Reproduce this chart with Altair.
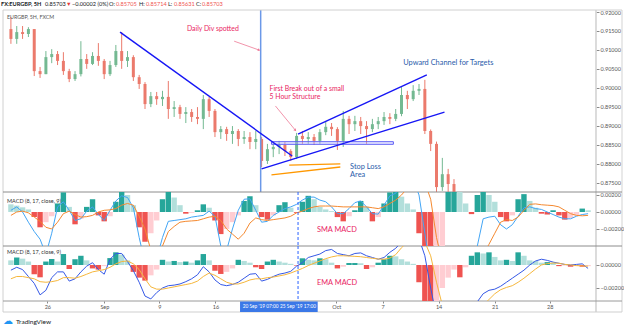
import altair as alt
import pandas as pd

# ---------------- data ----------------
N = 100  # 5H bars, resampled
open0 = 9155  # price x 1e-4
close = [9129,9147,9142,9155,9044,9036,9081,9089,9071,9044,
         9023,9036,9076,9063,9084,9071,9036,9060,9097,9071,
         9081,9028,9010,8957,8978,8970,8976,8944,8949,8931,
         8936,8923,8918,8970,8939,8883,8891,8878,8886,8865,
         8870,8857,8865,8807,8838,8844,8849,8833,8817,8873,
         8865,8870,8860,8883,8897,8891,8860,8918,8904,8912,
         8899,8891,8904,8912,8923,8918,8931,8981,8970,8992,
         8997,8886,8852,8738,8772,8746,8724,8680,8700,8690,
         8660,8640,8600,8590,8620,8610,8625,8640,8620,8635,
         8650,8640,8625,8630,8640,8620,8610,8600,8580,8570]
high = [9187,9163,9163,9160,9155,9055,9097,9102,9097,9094,
        9050,9044,9123,9089,9094,9118,9076,9071,9113,9147,
        9097,9086,9034,9015,8989,8989,8992,9018,8965,8955,
        8949,8944,8949,8981,8976,8944,8899,8897,8899,8891,
        8886,8883,8886,8870,8852,8857,8860,8857,8838,8881,
        8886,8883,8878,8891,8912,8907,8896,8939,8926,8926,
        8923,8912,8918,8923,8936,8933,8944,9002,8992,9007,
        9010,9021,8890,8858,8815,8786,8759,8724,8710,8712,
        8695,8670,8650,8615,8630,8640,8640,8660,8650,8660,
        8675,8660,8650,8648,8655,8645,8630,8620,8605,8590]
low = [9116,9116,9129,9134,9031,9026,9036,9065,9060,9034,
       9015,9018,9030,9050,9060,9058,9023,9031,9055,9050,
       9055,9018,8997,8944,8949,8955,8952,8918,8923,8918,
       8907,8910,8904,8891,8923,8870,8865,8860,8852,8846,
       8852,8838,8838,8791,8799,8817,8825,8820,8807,8812,
       8852,8852,8849,8852,8875,8873,8836,8844,8878,8886,
       8878,8852,8883,8891,8902,8904,8912,8925,8944,8965,
       8981,8878,8833,8707,8728,8720,8707,8660,8670,8675,
       8650,8620,8590,8570,8585,8600,8600,8615,8610,8615,
       8630,8625,8610,8615,8620,8605,8595,8580,8565,8563]

# MACD values x 1e-5
hist1 = [90,75,55,30,-60,-180,-120,-50,100,230,
         60,-145,-80,60,150,-40,-110,-50,120,240,
         200,80,-180,-350,-250,-100,150,240,170,80,
         -20,-10,20,90,50,-100,-260,-200,-120,-40,
         130,185,80,-60,-90,-40,80,115,50,-10,
         120,190,150,60,30,10,-60,-110,-50,20,
         130,60,-110,-60,100,230,240,180,100,30,
         -250,-600,-800,-700,-450,260,300,240,100,-25,
         200,260,200,120,-60,-110,-40,150,210,130,
         50,-20,-30,20,-40,-90,-70,-40,40,20]
macd1 = [20,60,0,-120,-230,-320,-500,-250,60,120,
         20,-100,-80,10,60,-30,-100,20,130,190,
         170,50,-300,-600,-700,-550,-300,-110,-100,-90,
         -80,-60,-50,-40,10,-50,-400,-450,-200,20,
         150,155,20,-120,-110,-40,0,40,60,90,
         140,175,175,140,120,60,-20,-20,40,110,
         130,60,-20,-25,80,190,220,350,420,380,
         200,-250,-700,-1100,-1300,-1200,-1000,-800,-650,-550,
         -400,-80,-60,-50,-150,-200,-150,-50,50,60,
         40,30,0,-30,-60,-80,-80,-50,-30,-20]
sig1 = [-40,0,10,-10,-60,-110,-180,-200,-120,-20,
        10,-30,-60,-55,-40,0,20,25,40,80,
        100,80,-50,-200,-450,-450,-400,-230,-170,-120,
        -110,-105,-100,-80,-60,-50,-100,-200,-260,-320,
        -250,-130,-70,-90,-100,-90,-80,-70,-50,-10,
        10,40,60,70,70,70,65,60,60,60,
        60,60,50,40,60,100,140,200,280,350,
        380,350,150,-300,-600,-900,-1000,-900,-800,-700,
        -600,-500,-380,-250,-120,-90,-100,-60,20,90,
        95,85,80,75,60,20,-20,-40,-45,-40]
hist2 = [40,65,55,30,-80,-107,30,52,30,95,
         -35,50,80,40,-30,-40,-10,60,110,90,
         40,-60,-110,-136,-90,-40,45,30,35,25,
         30,20,40,95,40,-50,-78,-60,-30,45,
         35,20,-20,-35,30,45,30,20,10,-5,
         58,45,40,58,50,20,-30,-15,17,17,
         15,-35,-20,20,50,80,75,50,30,10,
         -150,-350,-500,-330,-200,-110,-40,-107,-20,80,
         110,100,110,70,40,45,35,110,80,40,
         35,20,25,20,-10,-5,-15,-10,-15,-10]
macd2 = [-45,-20,-40,-100,-160,-260,-220,-110,-60,-60,
         -140,-120,-60,-10,20,-40,-80,50,100,100,
         30,-50,-150,-270,-295,-240,-200,-180,-175,-165,
         -145,-120,-85,-15,-60,-130,-170,-180,-170,-150,
         -115,-80,-75,-140,-125,-100,-80,-70,-55,-10,
         20,65,80,95,125,135,100,90,80,100,
         105,80,65,50,65,110,145,200,260,270,
         230,80,-200,-450,-600,-650,-640,-600,-520,-420,
         -320,-250,-220,-210,-185,-150,-115,-80,-45,0,
         35,50,40,25,15,5,0,5,10,-30]
sig2 = [-120,-100,-100,-110,-120,-145,-150,-145,-135,-110,
        -110,-115,-100,-80,-60,-50,-40,-20,10,30,
        35,10,-40,-120,-190,-210,-210,-200,-190,-180,
        -170,-160,-140,-100,-70,-90,-120,-150,-165,-165,
        -150,-130,-120,-120,-110,-105,-95,-85,-70,-50,
        -30,-5,15,35,55,70,80,80,78,75,
        72,65,58,52,50,60,90,150,200,230,
        240,200,80,-150,-350,-480,-550,-560,-540,-500,
        -430,-350,-300,-250,-215,-195,-180,-150,-115,-75,
        -35,0,12,17,15,5,0,-5,-8,-10]

# x-axis date labels (bar-index positions)
tick_pos = [6.25, 16.03, 25.47, 35.08, 55.82, 63.75, 73.36, 82.97, 92.42]
tick_lab = ["26", "Sep", "9", "16", "Oct", "7", "14", "21", "28"]
price_ticks = [0.875, 0.880, 0.885, 0.890, 0.895, 0.900, 0.905, 0.910, 0.915, 0.920]

# drawings (bar index, price)
trend_seg = ["down", "down", "top", "top", "bot", "bot"]
trend_i = [18.72, 48.24, 49.25, 71.34, 43.0, 74.37]
trend_p = [0.9147, 0.8820, 0.8878, 0.9034, 0.8786, 0.8936]
stop_seg = ["a", "a", "b", "b"]
stop_i = [47.73, 56.5, 44.69, 56.5]
stop_p = [0.8796, 0.8799, 0.8770, 0.8791]
box_i = [44.69, 65.6]
box_p = [0.88509, 0.88577]
arrow_seg = ["a", "a", "b", "b"]
arrow_i = [38.29, 42.5, 45.37, 48.74]
arrow_p = [0.9123, 0.9100, 0.8952, 0.8889]
arrow_head_angle = [110, 140]
div_i = 42.84
cross_i = 49.25
sel_i = [39.3, 52.62]

pink_txt = ["Daily Div spotted", "First Break out of a small", "5 Hour Structure"]
pink_i = [30.19, 44.36, 44.36]
pink_p = [0.9155, 0.8996, 0.8975]
blue_txt = ["Upward Channel for Targets", "Stop Loss", "Area"]
blue_i = [67.29, 58.18, 58.18]
blue_p = [0.9065, 0.8792, 0.8769]

# ---------------- build ----------------
W, H0, H1, H2 = 593, 182, 54, 55
FONT = "Lato"
ONE = pd.DataFrame({"k": [0]})
GREEN, RED = "#74b992", "#eb7a6c"
PINK, NAVY = "#e91e63", "#2a5caa"

xs = alt.Scale(domain=[-0.5, N - 0.5], nice=False, zero=False)


def X(field="i", axis=None):
    return alt.X(f"{field}:Q", scale=xs, axis=axis, title=None)


main_axis = alt.Axis(orient="right", values=price_ticks, format=".5f", tickSize=3,
                     tickColor="#8a8a8a", labelFontSize=5.5, labelColor="#555555",
                     labelPadding=1, domain=False, grid=False, labelFont=FONT)
ymain = alt.Scale(domain=[0.8725, 0.92053], nice=False, zero=False)


def YM(field):
    return alt.Y(f"{field}:Q", scale=ymain, axis=main_axis, title=None)


def ptext(txt, x, y, size=5.5, color="#444444", weight="normal", align="left"):
    return alt.Chart(ONE).mark_text(text=txt, align=align, baseline="middle", fontSize=size,
                                    color=color, fontWeight=weight, font=FONT).encode(
        x=alt.value(x), y=alt.value(y))


def prule(x, x2, y, y2, color, width=1.0):
    return alt.Chart(ONE).mark_rule(color=color, strokeWidth=width).encode(
        x=alt.value(x), x2=alt.value(x2), y=alt.value(y), y2=alt.value(y2))


opens = [open0] + close[:-1]
cdf = pd.DataFrame({
    "i": list(range(N)),
    "o": [v / 1e4 for v in opens],
    "c": [v / 1e4 for v in close],
    "h": [v / 1e4 for v in high],
    "l": [v / 1e4 for v in low],
})
cdf["col"] = [GREEN if c >= o else RED for o, c in zip(cdf["o"], cdf["c"])]
ccol = alt.Color("col:N", scale=None, legend=None)

wicks = alt.Chart(cdf).mark_rule(strokeWidth=1, clip=True).encode(x=X(), y=YM("l"), y2="h:Q", color=ccol)
bodies = alt.Chart(cdf).mark_bar(size=3, clip=True).encode(x=X(), y=YM("o"), y2="c:Q", color=ccol)

divline = alt.Chart(pd.DataFrame({"i": [div_i]})).mark_rule(color="#6b98e8", strokeWidth=1.5).encode(x=X())

tdf = pd.DataFrame({"seg": trend_seg, "i": trend_i, "p": trend_p})
trends = alt.Chart(tdf).mark_line(color="#1616f5", strokeWidth=1.4, clip=True).encode(
    x=X(), y=YM("p"), detail="seg:N", order="i:Q")

bdf = pd.DataFrame({"i": [box_i[0]], "i2": [box_i[1]], "p": [box_p[0]], "p2": [box_p[1]]})
box = alt.Chart(bdf).mark_rect(fill="#d6d6ff", fillOpacity=0.35, stroke="#5a5af5", strokeWidth=1).encode(
    x=X(), x2="i2:Q", y=YM("p"), y2="p2:Q")

sdf = pd.DataFrame({"seg": stop_seg, "i": stop_i, "p": stop_p})
stops = alt.Chart(sdf).mark_line(color="#ff9800", strokeWidth=1.3).encode(
    x=X(), y=YM("p"), detail="seg:N", order="i:Q")

adf = pd.DataFrame({"seg": arrow_seg, "i": arrow_i, "p": arrow_p})
arrows = alt.Chart(adf).mark_line(color="#ee7896", strokeWidth=0.8).encode(
    x=X(), y=YM("p"), detail="seg:N", order="i:Q")
hdf = pd.DataFrame({"i": [arrow_i[1], arrow_i[3]], "p": [arrow_p[1], arrow_p[3]], "ang": arrow_head_angle})
heads = alt.Chart(hdf).mark_point(shape="triangle", filled=True, size=9, color="#ee7896", opacity=1).encode(
    x=X(), y=YM("p"), angle=alt.Angle("ang:Q", scale=None))

ptdf = pd.DataFrame({"t": pink_txt, "i": pink_i, "p": pink_p})
pinks = alt.Chart(ptdf).mark_text(align="left", baseline="middle", fontSize=6.9, color=PINK, font=FONT).encode(
    x=X(), y=YM("p"), text="t:N")
btdf = pd.DataFrame({"t": blue_txt, "i": blue_i, "p": blue_p})
blues = alt.Chart(btdf).mark_text(align="left", baseline="middle", fontSize=7.4, color=NAVY, font=FONT).encode(
    x=X(), y=YM("p"), text="t:N")

# header & legend texts (pixel positions relative to main plot origin)
header = [
    ptext("FX:EURGBP, 5H", -2, -6, 5.6, "#131722", "bold"),
    ptext("0.85703", 42, -6, 5.6, "#131722"),
    ptext("▼", 63, -6, 5.6, "#e53935"),
    ptext("−0.00002 (0%)", 69, -6, 5.6, "#131722"),
    ptext("O:", 106, -6, 5.6, "#131722"),
    ptext("0.85705", 113, -6, 5.6, "#ef5350"),
    ptext("H:", 136, -6, 5.6, "#131722"),
    ptext("0.85714", 143, -6, 5.6, "#ef5350"),
    ptext("L:", 165, -6, 5.6, "#131722"),
    ptext("0.85631", 171, -6, 5.6, "#ef5350"),
    ptext("C:", 193, -6, 5.6, "#131722"),
    ptext("0.85703", 199, -6, 5.6, "#ef5350"),
    ptext("EURGBP, 5H, FXCM", 4, 7, 5.3, "#555555"),
]

frame = [
    prule(0, 619, 0, 0, "#d0d0d0"),
    prule(0, 0, 0, 302, "#d0d0d0"),
    prule(593, 593, 0, 302, "#d3d3d3", 1.6),
    prule(619, 619, 0, 302, "#d3d3d3"),
    prule(0, 619, 182, 182, "#8c8c8c"),
    prule(0, 619, 236, 236, "#8c8c8c"),
    prule(0, 619, 291, 291, "#9a9a9a"),
    prule(0, 619, 302, 302, "#cfcfcf"),
]

main = alt.layer(wicks, bodies, divline, box, trends, stops, arrows, heads, pinks, blues,
                 *header, *frame).properties(width=W, height=H0)


# ---------------- MACD panels ----------------
HCOL = {"pos_up": "#26a69a", "pos_dn": "#b2dfdb", "neg_dn": "#ef5350", "neg_up": "#ffcdd2"}


def hist_col(vals):
    cols = []
    for k, v in enumerate(vals):
        prev = vals[k - 1] if k > 0 else v + 1
        if v >= 0:
            cols.append(HCOL["pos_up"] if v >= prev else HCOL["pos_dn"])
        else:
            cols.append(HCOL["neg_dn"] if v < prev else HCOL["neg_up"])
    return cols


xaxis = alt.Axis(values=tick_pos, tickSize=2, tickColor="#8a8a8a", labelFontSize=5.5, labelColor="#555555",
                 labelPadding=1.5, domain=False, grid=False, labelFont=FONT,
                 labelExpr="[" + ",".join("'%s'" % s for s in tick_lab) + "][indexof(["
                           + ",".join(str(v) for v in tick_pos) + "], datum.value)]")


def panel(hist, macd, sig, dom, ticks, h, label, name, mcol, scol, name_v, xaxis_def, extra):
    ax = alt.Axis(orient="right", values=ticks, format=".5f", tickSize=3, tickColor="#8a8a8a",
                  labelFontSize=5.5, labelColor="#555555", labelPadding=1, domain=False, grid=False,
                  labelFont=FONT)
    ysc = alt.Scale(domain=dom, nice=False, zero=False)

    def Y(f):
        return alt.Y(f"{f}:Q", scale=ysc, axis=ax, title=None)

    d = pd.DataFrame({"i": list(range(N)), "h": [v / 1e5 for v in hist],
                      "m": [v / 1e5 for v in macd], "s": [v / 1e5 for v in sig],
                      "zero": [0.0] * N})
    d["col"] = hist_col(hist)
    bars = alt.Chart(d).mark_bar(size=5.4, clip=True).encode(
        x=X(axis=xaxis_def), y=Y("h"), y2="zero:Q", color=alt.Color("col:N", scale=None, legend=None))
    ml = alt.Chart(d).mark_line(color=mcol, strokeWidth=1, clip=True).encode(x=X(axis=xaxis_def), y=Y("m"))
    sl = alt.Chart(d).mark_line(color=scol, strokeWidth=1, clip=True).encode(x=X(axis=xaxis_def), y=Y("s"))
    cross = alt.Chart(pd.DataFrame({"i": [cross_i]})).mark_rule(
        color="#2962ff", strokeWidth=1, strokeDash=[3, 2]).encode(x=X(axis=xaxis_def))
    nm = alt.Chart(pd.DataFrame({"i": [52.5], "v": [name_v], "t": [name]})).mark_text(
        align="left", baseline="middle", fontSize=7.4, color=PINK, font=FONT).encode(
        x=X(axis=xaxis_def), y=Y("v"), text="t:N")
    lab = ptext(label, 4, 9 if h == H1 else 6, 5.5, "#333333")
    return alt.layer(bars, ml, sl, cross, nm, lab, *extra).properties(width=W, height=h)


p1 = panel(hist1, macd1, sig1, [-0.0040, 0.00235], [0.002, 0.0, -0.002], H1,
           "MACD (8, 17, close, 9)", "SMA MACD", "#42a5f5", "#f5892f", -0.00208, None, [])

sel = alt.Chart(pd.DataFrame({"i": [sel_i[0]], "i2": [sel_i[1]]})).mark_rect(color="#3b78e7").encode(
    x=X(axis=xaxis), x2="i2:Q", y=alt.value(55.5), y2=alt.value(66))
sel_txt = alt.Chart(pd.DataFrame({"i": [div_i, cross_i],
                                  "t": ["20 Sep '19   07:00", "25 Sep '19   17:00"]})).mark_text(
    fontSize=4.8, color="white", baseline="middle", align="center", font=FONT).encode(
    x=X(axis=xaxis), y=alt.value(60.5), text="t:N")
logo = [ptext("☁", 0, 75, 10, "#2196f3"), ptext("TradingView", 13, 75.5, 6.5, "#131722")]

p2 = panel(hist2, macd2, sig2, [-0.00313, 0.00165], [0.0, -0.002], H2,
           "MACD (8, 17, close, 9)", "EMA MACD", "#3558e6", "#f6b73c", -0.00157, xaxis,
           [sel, sel_txt, *logo])

chart = alt.vconcat(main, p1, p2, spacing=0, bounds="flush").properties(
    padding={"left": 1, "top": 2, "right": 0, "bottom": 0},
    autosize=alt.AutoSizeParams(type="pad"),
    background="white",
).resolve_scale(color="independent").configure_view(stroke=None).configure_text(font=FONT)

chart.save("out.html", embed_options={"renderer": "svg", "actions": False})
